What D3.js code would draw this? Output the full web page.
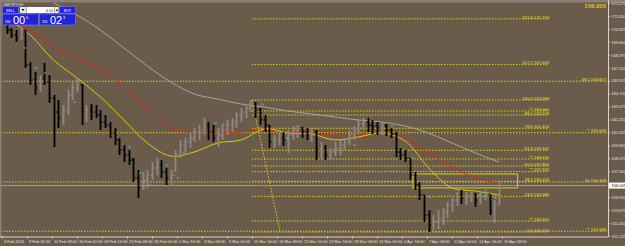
<!DOCTYPE html>
<html>
<head>
<meta charset="utf-8">
<script src="https://cdn.jsdelivr.net/npm/d3@7"></script>
<style>
html, body { margin: 0; padding: 0; background: #6b5b4b; overflow: hidden; }
svg { display: block; }
</style>
</head>
<body>
<svg id="chart" width="625" height="246"></svg>
<script>
// GBPJPY H4 - one stored bar every 3 H4 bars, first at H4 index 3
const barStart = 3, barStep = 3;
const highs = [
  171.29,170.91,170.72,171.01,170.72,167.69,166.75,166.46,167.60,166.46,
  164.57,164.10,163.63,165.05,165.80,166.18,165.61,163.63,163.72,163.63,
  163.15,162.68,162.02,161.45,160.51,159.84,159.37,158.61,157.48,157.29,
  157.48,158.23,158.61,158.42,157.67,157.48,159.37,160.32,160.51,161.07,
  161.45,161.73,162.40,162.02,161.73,161.45,161.73,162.21,162.40,162.96,
  163.34,163.72,164.10,163.91,163.34,162.68,161.73,160.79,161.26,161.07,
  161.26,161.64,161.73,161.55,161.45,161.45,161.26,160.13,159.84,159.56,
  160.13,160.32,160.51,161.26,161.64,162.21,162.40,162.40,162.21,162.02,
  162.02,161.83,161.45,161.07,159.56,159.37,158.61,157.29,156.34,155.11,
  153.69,153.22,153.69,153.88,154.45,154.83,155.40,155.59,155.40,155.59,
  155.30,155.49,155.59,155.11,154.64,156.25
];
const lows = [
  170.34,169.97,169.59,169.78,167.13,165.52,164.57,164.86,165.52,163.82,
  159.65,161.45,161.73,162.68,164.10,164.86,161.73,162.02,162.21,162.40,
  161.26,161.45,160.51,159.84,158.90,158.23,157.95,156.34,154.83,155.59,
  155.78,156.53,157.00,156.72,156.06,155.96,157.29,158.61,159.18,159.56,
  160.13,160.32,160.79,160.32,160.13,159.65,160.32,160.79,161.07,161.45,
  162.02,162.40,162.96,162.40,161.73,161.07,159.56,159.56,159.84,159.75,
  159.09,160.32,160.51,160.51,160.32,160.13,158.42,158.61,158.42,158.42,
  158.80,158.90,159.37,159.84,160.32,160.88,161.26,161.07,160.88,160.79,
  160.79,160.69,160.51,158.71,158.42,158.23,156.53,155.59,154.64,152.56,
  151.61,151.80,151.99,152.27,152.94,153.50,154.07,154.26,154.17,154.45,
  153.98,154.26,154.64,153.22,152.46,154.17
];
const closes = [
  170.72,170.25,169.97,170.72,167.41,165.99,165.24,166.18,165.80,164.29,
  162.96,162.40,163.15,164.57,165.24,165.52,162.96,163.15,162.96,162.68,
  162.02,161.73,160.98,160.32,159.37,158.90,158.42,156.72,155.78,156.53,
  157.00,157.67,157.95,157.29,156.72,157.00,158.90,159.84,160.13,160.51,
  161.07,161.26,161.73,161.07,160.51,160.79,161.26,161.73,162.02,162.68,
  162.96,163.34,163.72,163.15,162.21,161.73,160.13,160.32,160.51,160.32,
  160.79,161.26,161.45,161.07,160.79,161.07,159.37,159.56,158.90,159.18,
  159.56,159.84,160.13,160.79,161.26,161.83,162.02,161.73,161.64,161.45,
  161.64,161.26,160.88,159.18,158.90,158.61,157.00,156.06,155.11,153.22,
  152.27,152.56,152.94,153.50,154.17,154.64,155.11,154.83,155.02,155.21,
  154.64,155.02,155.21,153.69,154.17,156.00
];
const firstOpen = 171.00;
const lastPrice = 156.005;

// moving averages sampled every 15 H4 bars
const maBars = [3,18,33,48,63,78,93,108,123,138,153,168,183,198,213,228,243,258,273,288,303,318];
const maFast = [171.86,170.25,167.88,166.18,164.38,162.21,160.03,158.80,159.18,160.03,160.32,161.36,160.98,160.88,160.32,160.60,160.98,160.22,157.67,155.78,155.49,155.11];
const maMid  = [171.86,170.63,169.11,167.98,167.03,165.33,163.25,161.45,160.98,160.98,161.07,161.26,161.07,160.98,160.79,160.79,160.98,160.41,159.09,157.76,156.72,156.25];
const maSlow = [175.93,174.51,173.28,172.14,170.72,169.02,167.32,165.80,164.67,164.19,163.72,163.44,163.06,162.78,162.49,162.21,162.02,161.64,160.98,160.03,159.09,158.23];

// small signal dashes (H4 index, price)
const sigBars   = [13,20,26,45,80,87,93,104,111,115,135,140,165,181,224,248,261,272,278,304,314];
const sigPrices = [169.02,167.13,166.65,163.91,159.65,157.19,156.06,157.95,156.72,159.09,161.92,161.83,163.72,160.51,159.84,161.64,158.61,154.92,151.99,155.11,154.83];

// fibonacci (short) drawn from the 11 Mar high
const fibNames  = ["161.8","127.2","100.0","**","88.6","78.6","61.8","**","50.0","**","38.2","23.6","**","0.0"];
const fibPrices = [171.774,167.446,164.099,163.060,162.678,161.424,159.342,158.520,157.856,157.320,156.404,154.986,152.650,151.612];
const fibFrom = 160, fibTo = 350;
const fibAnchor = [[160,164.099],[178,151.612]];

// long levels across the whole chart
const longNames  = ["38.2","**","50","**"];
const longPrices = [165.877,161.003,156.349,151.689];

// box
const boxBars = [263,330], boxPrices = [157.10,155.78];

const priceTicks = [151.225,152.450,153.675,154.900,157.350,158.575,159.800,161.025,162.250,163.475,164.700,165.925,167.150,168.375,169.600,170.825,172.050,173.275];
const timeTicks = [0,16,32,48,64,80,96,112,128,144,160,176,192,208,224,240,256,272,288,304,320];
const timeLabels = ["4 Feb 2016","8 Feb 16:00","11 Feb 08:00","16 Feb 00:00","18 Feb 16:00","23 Feb 08:00","26 Feb 00:00","1 Mar 16:00","4 Mar 08:00","9 Mar 00:00","11 Mar 16:00","16 Mar 08:00","21 Mar 00:00","23 Mar 16:00","28 Mar 08:00","31 Mar 00:00","4 Apr 16:00","7 Apr 08:00","12 Apr 00:00","14 Apr 16:00","19 Apr 08:00"];

const svg = d3.select("#chart");
const plotR = 607, plotT = 3, plotB = 236;
const x = d3.scaleLinear().domain([0, 320]).range([2, 502]);
const y = d3.scaleLinear().domain([151.225, 173.275]).range([236.1, 3]);
const font = "Liberation Sans, Arial, sans-serif";

svg.append("rect").attr("width", 625).attr("height", 246).attr("fill", "#6b5b4b");
svg.append("defs").append("clipPath").attr("id", "plot")
  .append("rect").attr("x", 0).attr("y", plotT).attr("width", plotR).attr("height", plotB - plotT);

const g = svg.append("g").attr("clip-path", "url(#plot)");

// long levels
longPrices.forEach((p, i) => {
  g.append("line").attr("x1", 0).attr("x2", plotR).attr("y1", y(p)).attr("y2", y(p))
    .attr("stroke", "#d8d020").attr("stroke-width", 1).attr("stroke-dasharray", "1.5,1.5");
});

// short fib
fibPrices.forEach((p, i) => {
  g.append("line").attr("x1", x(fibFrom)).attr("x2", x(fibTo)).attr("y1", y(p)).attr("y2", y(p))
    .attr("stroke", "#d8d020").attr("stroke-width", 1).attr("stroke-dasharray", "1.5,1.5");
});
g.append("line")
  .attr("x1", x(fibAnchor[0][0])).attr("y1", y(fibAnchor[0][1]))
  .attr("x2", x(fibAnchor[1][0])).attr("y2", y(fibAnchor[1][1]))
  .attr("stroke", "#d8d020").attr("stroke-dasharray", "1.5,1.5");

// box
g.append("rect")
  .attr("x", x(boxBars[0])).attr("y", y(boxPrices[0]))
  .attr("width", x(boxBars[1]) - x(boxBars[0])).attr("height", y(boxPrices[1]) - y(boxPrices[0]))
  .attr("fill", "none").attr("stroke", "#d8d020").attr("stroke-width", 1);

// current price line
g.append("line").attr("x1", 0).attr("x2", plotR).attr("y1", y(lastPrice)).attr("y2", y(lastPrice))
  .attr("stroke", "#a29a92").attr("stroke-width", 1);

// moving averages
const maLine = vals => d3.line().curve(d3.curveCatmullRom)
  .x((d, i) => x(maBars[i])).y(d => y(d))(vals);
g.append("path").attr("d", maLine(maSlow)).attr("fill", "none").attr("stroke", "#aaa39b").attr("stroke-width", 1);
g.append("path").attr("d", maLine(maMid)).attr("fill", "none").attr("stroke", "#e02a10").attr("stroke-width", 1);
g.append("path").attr("d", maLine(maFast)).attr("fill", "none").attr("stroke", "#d8cc10").attr("stroke-width", 1);

// bars
const bars = highs.map((h, i) => ({
  t: barStart + i * barStep, h, l: lows[i], c: closes[i],
  o: i === 0 ? firstOpen : closes[i - 1]
}));
const bg = g.append("g");
bars.forEach(b => {
  const col = b.c >= b.o ? "#8e8882" : "#000000";
  const cx = Math.round(x(b.t)) + 0.5;
  bg.append("line").attr("x1", cx).attr("x2", cx).attr("y1", y(b.h)).attr("y2", y(b.l))
    .attr("stroke", col).attr("stroke-width", 1.8);
  bg.append("line").attr("x1", cx - 2).attr("x2", cx).attr("y1", y(b.o)).attr("y2", y(b.o))
    .attr("stroke", col).attr("stroke-width", 1);
  bg.append("line").attr("x1", cx).attr("x2", cx + 2).attr("y1", y(b.c)).attr("y2", y(b.c))
    .attr("stroke", col).attr("stroke-width", 1);
});

// signal dashes
sigBars.forEach((t, i) => {
  g.append("line").attr("x1", x(t) + 1).attr("x2", x(t) + 4)
    .attr("y1", y(sigPrices[i])).attr("y2", y(sigPrices[i]))
    .attr("stroke", "#30c8c8").attr("stroke-width", 1);
});

// fib labels
fibPrices.forEach((p, i) => {
  svg.append("text").attr("x", 549).attr("y", y(p) - 0.3).attr("text-anchor", "end")
    .attr("font-family", font).attr("font-size", 4.2).attr("fill", "#e8e020")
    .text(fibNames[i] + " " + p.toFixed(3));
});
longPrices.forEach((p, i) => {
  svg.append("text").attr("x", 606).attr("y", y(p) - 0.3).attr("text-anchor", "end")
    .attr("font-family", font).attr("font-size", 4.2).attr("fill", "#e8e020")
    .text(longNames[i] + " " + p.toFixed(3));
});

// top strip
svg.append("rect").attr("x", 0).attr("y", 0).attr("width", 625).attr("height", 2.5).attr("fill", "#8c8076");
svg.append("rect").attr("x", 0).attr("y", 0).attr("width", 1.5).attr("height", 237).attr("fill", "#8c8076");

// right axis
const ay = svg.append("g").attr("transform", "translate(608,0)")
  .call(d3.axisRight(y).tickValues(priceTicks).tickSize(2).tickFormat(d3.format(".3f")));
ay.select(".domain").attr("stroke", "#d8d2cc").attr("d", "M0.5,0V237");
ay.selectAll(".tick line").attr("stroke", "#d8d2cc");
ay.selectAll(".tick text").attr("font-family", font).attr("font-size", 4).attr("fill", "#e8e4e0").attr("x", 3.5);

// bottom axis
const ax = svg.append("g").attr("transform", "translate(0,236.5)")
  .call(d3.axisBottom(x).tickValues(timeTicks).tickSize(2).tickFormat((d, i) => timeLabels[i]));
ax.select(".domain").attr("stroke", "#d8d2cc").attr("d", "M0,0.5H608");
ax.selectAll(".tick line").attr("stroke", "#d8d2cc");
ax.selectAll(".tick text").attr("font-family", font).attr("font-size", 4).attr("fill", "#e8e4e0")
  .attr("text-anchor", "start").attr("x", 1.5).attr("y", 3.5);

// last price box
svg.append("rect").attr("x", 609).attr("y", y(lastPrice) - 3).attr("width", 16).attr("height", 6).attr("fill", "#ffffff");
svg.append("text").attr("x", 611.5).attr("y", y(lastPrice) + 1.5).attr("font-family", font)
  .attr("font-size", 4).attr("fill", "#000").text(lastPrice.toFixed(3));

// top-right price
svg.append("text").attr("x", 606).attr("y", 8).attr("text-anchor", "end").attr("font-family", font)
  .attr("font-size", 6).attr("font-weight", "bold").attr("fill", "#d8cc10").text(lastPrice.toFixed(3));

// one-click panel
const panel = svg.append("g").attr("font-family", font);
panel.append("text").attr("x", 3).attr("y", 5.5).attr("font-size", 3.8).attr("fill", "#e0dcd8").text("GBPJPY,H4");
const blue = "#2323d4";
panel.append("rect").attr("x", 2.5).attr("y", 6.5).attr("width", 16).attr("height", 7).attr("fill", blue).attr("stroke", "#8a8ae8").attr("stroke-width", 0.5);
panel.append("text").attr("x", 10.5).attr("y", 11.5).attr("text-anchor", "middle").attr("font-size", 3.6).attr("fill", "#fff").text("SELL");
panel.append("rect").attr("x", 20).attr("y", 7).attr("width", 6).attr("height", 6).attr("fill", "#e8e8e8");
panel.append("rect").attr("x", 26.5).attr("y", 7).attr("width", 28).attr("height", 6).attr("fill", "#ffffff");
panel.append("text").attr("x", 53).attr("y", 11.5).attr("text-anchor", "end").attr("font-size", 3.6).attr("fill", "#000").text("0.10");
panel.append("rect").attr("x", 55).attr("y", 7).attr("width", 3.5).attr("height", 6).attr("fill", "#e8e8e8");
panel.append("rect").attr("x", 59.5).attr("y", 6.5).attr("width", 16).attr("height", 7).attr("fill", blue).attr("stroke", "#8a8ae8").attr("stroke-width", 0.5);
panel.append("text").attr("x", 67.5).attr("y", 11.5).attr("text-anchor", "middle").attr("font-size", 3.6).attr("fill", "#fff").text("BUY");
panel.append("path").attr("d", "M21.5,9h3l-1.5,2z").attr("fill", "#000");
panel.append("path").attr("d", "M55.8,11h2l-1,-2z").attr("fill", "#000");
[[2.5, "00", "5"], [39.5, "02", "3"]].forEach(([px, big, sup]) => {
  panel.append("rect").attr("x", px).attr("y", 14).attr("width", 36).attr("height", 11).attr("fill", blue).attr("stroke", "#8a8ae8").attr("stroke-width", 0.5);
  panel.append("text").attr("x", px + 2.5).attr("y", 23).attr("font-size", 3.2).attr("fill", "#fff").text("156");
  panel.append("text").attr("x", px + 10.5).attr("y", 24).attr("font-size", 11).attr("fill", "#fff").text(big);
  panel.append("text").attr("x", px + 23.5).attr("y", 18.5).attr("font-size", 4).attr("fill", "#fff").text(sup);
});
</script>
</body>
</html>
